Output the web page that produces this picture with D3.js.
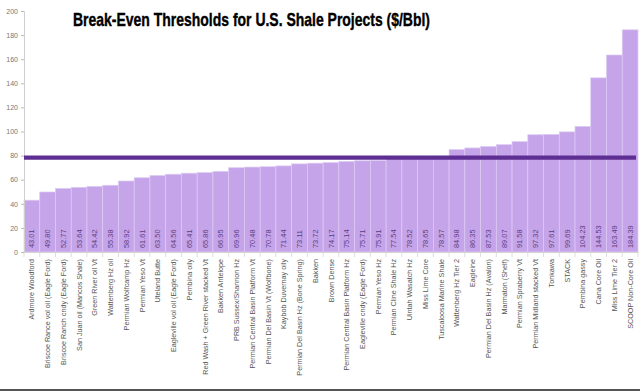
<!DOCTYPE html>
<html><head><meta charset="utf-8">
<script src="https://cdn.jsdelivr.net/npm/d3@7"></script>
<style>
html,body{margin:0;padding:0;background:#fff;}
svg{display:block;}
</style></head>
<body>
<svg id="c" width="640" height="392"></svg>
<script>
const categories = [
 "Ardmore Woodford","Briscoe Rance vol oil (Eagle Ford)","Briscoe Ranch cndy (Eagle Ford)","San Juan oil (Mancos Shale)",
 "Green River oil Vt","Wattenberg Hz oil","Permian Wolfcamp Hz","Permian Yeso Vt","Uteland Butte",
 "Eagleville vol oil (Eagle Ford)","Pembina oily","Red Wash + Green River stacked Vt","Bakken Antelope",
 "PRB Sussex/Shannon Hz","Permian Central Basin Platform Vt","Permian Del Basin Vt (Wolfbone)","Kaybob Duvernay oily",
 "Permian Del Basin Hz (Bone Spring)","Bakken","Brown Dense","Permian Central Basin Platform Hz",
 "Eagleville cndy (Eagle Ford)","Permian Yeso Hz","Permian Cline Shale Hz","Uintah Wasatch Hz","Miss Lime Core",
 "Tuscaloosa Marine Shale","Wattenberg Hz Tier 2","Eagleine","Permian Del Basin Hz (Avalon)","Marmaton (Shelf)",
 "Permian Spraberry Vt","Permian Midland stacked Vt","Tonkawa","STACK","Pembina gassy","Cana Core Oil",
 "Miss Lime Tier 2","SCOOP Non-Core Oil"
];
const values = [
 43.01,49.80,52.77,53.64,54.42,55.38,58.92,61.61,63.50,64.56,65.41,65.86,66.95,69.96,70.48,70.78,71.44,
 73.11,73.72,74.17,75.14,75.71,75.91,77.54,78.52,78.65,78.57,84.98,86.35,87.53,89.07,91.58,97.32,97.61,
 99.69,104.23,144.53,163.49,184.39
];
const yTicks = [0,20,40,60,80,100,120,140,160,180,200];
const threshold = [78.3];
const title = "Break-Even Thresholds for U.S. Shale Projects ($/Bbl)";

const svg = d3.select("#c");
const x = d3.scaleBand().domain(categories).range([24, 638]).padding(0);
const y = d3.scaleLinear().domain([0, 200]).range([252, 11]);

// bars
svg.append("g").selectAll("rect").data(values).join("rect")
  .attr("x", (d,i) => x(categories[i]))
  .attr("y", d => y(d))
  .attr("width", x.bandwidth())
  .attr("height", d => y(0) - y(d))
  .attr("fill", "#c6a4ea")
  .attr("stroke", "#dccbf2")
  .attr("stroke-width", 0.7);

// y axis
const ya = svg.append("g").attr("transform", "translate(24,0)")
  .call(d3.axisLeft(y).tickValues(yTicks).tickSize(3).tickPadding(3));
ya.select(".domain").attr("stroke", "#cfcfcf");
ya.selectAll(".tick line").attr("stroke", "#bbb");
ya.selectAll(".tick text").attr("fill", "#777").style("font-family", "Liberation Sans, Arial, sans-serif").style("font-size", "7px");

// x axis separators
const xa = svg.append("g").attr("transform", "translate(0,252)")
  .call(d3.axisBottom(x).tickSize(0).tickFormat(""));
xa.select(".domain").attr("stroke", "#d5d5d5");
svg.append("g").selectAll("line").data(categories.concat(["_end"])).join("line")
  .attr("x1", (d,i) => x.range()[0] + i * x.step())
  .attr("x2", (d,i) => x.range()[0] + i * x.step())
  .attr("y1", 252).attr("y2", 257)
  .attr("stroke", "#d0d0d0").attr("stroke-width", 0.7);

// category labels
svg.append("g").selectAll("text").data(categories).join("text")
  .attr("transform", d => `translate(${x(d) + x.bandwidth()/2 + 2.5},259) rotate(-90)`)
  .attr("text-anchor", "end")
  .attr("fill", "#555")
  .style("font-family", "Liberation Sans, Arial, sans-serif")
  .style("font-size", "7.2px")
  .text(d => d);

// value labels
svg.append("g").selectAll("text").data(values).join("text")
  .attr("transform", (d,i) => `translate(${x(categories[i]) + x.bandwidth()/2 + 2.5},248) rotate(-90)`)
  .attr("text-anchor", "start")
  .attr("fill", "#5b3f80")
  .style("font-family", "Liberation Sans, Arial, sans-serif")
  .style("font-size", "7.4px")
  .text(d => d.toFixed(2));

// threshold line
svg.append("g").selectAll("line").data(threshold).join("line")
  .attr("x1", 24).attr("x2", 636)
  .attr("y1", d => y(d)).attr("y2", d => y(d))
  .attr("stroke", "#5e2f92").attr("stroke-width", 4.2);

// bottom frame line
svg.append("line").attr("x1", 0).attr("x2", 640).attr("y1", 390).attr("y2", 390)
  .attr("stroke", "#555").attr("stroke-width", 2);

// title
svg.append("text").attr("x", 73).attr("y", 26)
  .attr("textLength", 357).attr("lengthAdjust", "spacingAndGlyphs")
  .style("font-family", "Liberation Sans, Arial, sans-serif")
  .style("font-weight", "bold").style("font-size", "19px").attr("fill", "#000")
  .attr("stroke", "#000").attr("stroke-width", 0.4)
  .text(title);
</script>
</body></html>
